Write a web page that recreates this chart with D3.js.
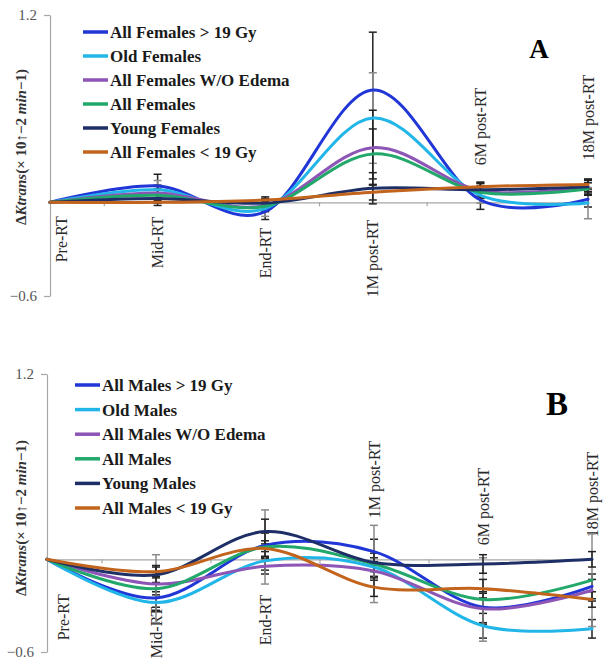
<!DOCTYPE html>
<html>
<head>
<meta charset="utf-8">
<script src="https://cdn.jsdelivr.net/npm/d3@7/dist/d3.min.js"></script>
<style>
  html, body { margin: 0; padding: 0; background: #fff; }
  svg { display: block; }
</style>
</head>
<body>
<svg id="chart" width="604" height="671"></svg>
<script>
// ---------------- DATA ----------------
const categories = ["Pre-RT", "Mid-RT", "End-RT", "1M post-RT", "6M post-RT", "18M post-RT"];
const yTickValues = [1.2, -0.6];

const femaleGroups = ["All Females > 19 Gy", "Old Females", "All Females W/O Edema", "All Females", "Young Females", "All Females < 19 Gy"];
const maleGroups = ["All Males > 19 Gy", "Old Males", "All Males W/O Edema", "All Males", "Young Males", "All Males < 19 Gy"];

// Panel A (females)
const femalesAbove19  = [0, 0.105, -0.06, 0.72, 0.015, 0.02];
const oldFemales      = [0, 0.08, -0.04, 0.54, 0.045, -0.005];
const femalesNoEdema  = [0, 0.06, -0.02, 0.35, 0.075, 0.10];
const allFemales      = [0, 0.045, -0.025, 0.31, 0.065, 0.085];
const youngFemales    = [0, 0.025, -0.005, 0.09, 0.08, 0.10];
const femalesBelow19  = [0, 0.0, 0.015, 0.065, 0.10, 0.115];

const errFemalesAbove19 = [0, 0.075, 0.05, 0.37, 0.06, 0.05];
const errOldFemales     = [0, 0.06, 0.05, 0.29, 0.05, 0.10];
const errFemalesNoEdema = [0, 0.05, 0.04, 0.24, 0.05, 0.05];
const errAllFemales     = [0, 0.04, 0.03, 0.16, 0.04, 0.04];
const errYoungFemales   = [0, 0.03, 0.03, 0.10, 0.04, 0.04];
const errFemalesBelow19 = [0, 0.02, 0.02, 0.05, 0.03, 0.03];

// Panel B (males)
const malesAbove19  = [0, -0.25, 0.09, 0.05, -0.31, -0.175];
const oldMales      = [0, -0.28, -0.01, -0.05, -0.43, -0.45];
const malesNoEdema  = [0, -0.16, -0.045, -0.075, -0.32, -0.20];
const allMales      = [0, -0.19, 0.08, -0.03, -0.26, -0.135];
const youngMales    = [0, -0.10, 0.18, -0.02, -0.03, 0.0];
const malesBelow19  = [0, -0.08, 0.07, -0.18, -0.19, -0.26];

const errMalesAbove19 = [0, 0.06, 0.08, 0.08, 0.10, 0.08];
const errOldMales     = [0, 0.05, 0.06, 0.06, 0.08, 0.06];
const errMalesNoEdema = [0, 0.05, 0.05, 0.06, 0.10, 0.07];
const errAllMales     = [0, 0.22, 0.24, 0.25, 0.27, 0.30];
const errYoungMales   = [0, 0.05, 0.08, 0.06, 0.06, 0.05];
const errMalesBelow19 = [0, 0.04, 0.05, 0.06, 0.06, 0.05];

// ---------------- STYLE / LAYOUT ----------------
const seriesColors = ["#2136d6", "#22b6e8", "#8c55b6", "#22a86a", "#1d2f66", "#c2641c"];
const errColorsA = ["#222", "#8a8a8a", "#222", "#222", "#222", "#222"];
const errColorsB = ["#222", "#222", "#222", "#8a8a8a", "#222", "#222"];

const panels = [
  {
    names: femaleGroups,
    series: [femalesAbove19, oldFemales, femalesNoEdema, allFemales, youngFemales, femalesBelow19],
    errors: [errFemalesAbove19, errOldFemales, errFemalesNoEdema, errAllFemales, errYoungFemales, errFemalesBelow19],
    errColors: errColorsA,
    xRange: [50, 588], yRange: [296, 15],
    legend: { lineX: 83, textX: 110, y: 32, step: 24 },
    letter: "A", letterX: 539, letterY: 58, letterSize: 27,
    yLabelCY: 147,
    labelOffsets: [60, 66, 76, 95, -37, -42],
    labelDx: [11, 0, 0, 0, 0, 0]
  },
  {
    names: maleGroups,
    series: [malesAbove19, oldMales, malesNoEdema, allMales, youngMales, malesBelow19],
    errors: [errMalesAbove19, errOldMales, errMalesNoEdema, errAllMales, errYoungMales, errMalesBelow19],
    errColors: errColorsB,
    xRange: [47, 592], yRange: [652, 374],
    legend: { lineX: 75, textX: 102, y: 385, step: 24.6 },
    letter: "B", letterX: 557, letterY: 415, letterSize: 33,
    yLabelCY: 518,
    labelOffsets: [81, 99, 86, -41, -14, -22],
    labelDx: [16, 0, 0, 0, 0, 0]
  }
];

// ---------------- DRAW ----------------
const svg = d3.select("#chart");
const serif = "'Liberation Serif', 'Times New Roman', serif";

panels.forEach(p => {
  const g = svg.append("g");
  const x = d3.scalePoint().domain(categories).range(p.xRange);
  const y = d3.scaleLinear().domain([-0.6, 1.2]).range(p.yRange);
  const y0 = y(0);

  // Y axis
  const yAxis = d3.axisLeft(y).tickValues(yTickValues).tickSize(6).tickSizeOuter(0).tickPadding(7)
    .tickFormat(d3.format(".1f"));
  const ya = g.append("g").attr("transform", `translate(${p.xRange[0]},0)`).call(yAxis);
  ya.select(".domain").attr("stroke", "#a6a6a6").attr("stroke-width", 1.2);
  ya.selectAll(".tick line").attr("stroke", "#a6a6a6").attr("stroke-width", 1.2);
  ya.selectAll(".tick text").attr("font-family", serif).attr("font-size", 15).attr("fill", "#555");

  // X axis along zero
  const xAxisScale = d3.scaleLinear().domain([0, categories.length - 1]).range(p.xRange);
  const midTicks = d3.range(categories.length - 1).map(i => i + 0.5);
  const xa = g.append("g").attr("transform", `translate(0,${y0})`)
    .call(d3.axisBottom(xAxisScale).tickValues(midTicks).tickSize(4).tickSizeOuter(0).tickFormat(""));
  xa.select(".domain").attr("stroke", "#a6a6a6").attr("stroke-width", 1.2);
  xa.selectAll(".tick line").attr("stroke", "#a6a6a6").attr("stroke-width", 1.2);

  // Category labels
  g.selectAll(".cat").data(categories).enter().append("text")
    .attr("transform", (d, i) => `translate(${x(d) + p.labelDx[i]},${y0 + p.labelOffsets[i]}) rotate(-90)`)
    .attr("dy", "0.35em")
    .attr("text-anchor", "start")
    .attr("font-family", serif).attr("font-size", 16).attr("fill", "#2a2a2a")
    .text(d => d);

  // Error bars
  p.series.forEach((s, si) => {
    const eg = g.append("g").attr("stroke", p.errColors[si]).attr("stroke-width", 1.5);
    s.forEach((v, i) => {
      const e = p.errors[si][i];
      if (!e) return;
      const cx = x(categories[i]);
      eg.append("line").attr("x1", cx).attr("x2", cx).attr("y1", y(v - e)).attr("y2", y(v + e));
      eg.append("line").attr("x1", cx - 4).attr("x2", cx + 4).attr("y1", y(v - e)).attr("y2", y(v - e));
      eg.append("line").attr("x1", cx - 4).attr("x2", cx + 4).attr("y1", y(v + e)).attr("y2", y(v + e));
    });
  });

  // Lines
  const line = d3.line()
    .x((d, i) => x(categories[i]))
    .y(d => y(d))
    .curve(d3.curveCardinal.tension(0));
  p.series.forEach((s, si) => {
    g.append("path").datum(s)
      .attr("d", line)
      .attr("fill", "none")
      .attr("stroke", seriesColors[si])
      .attr("stroke-width", 3)
      .attr("stroke-linejoin", "round")
      .attr("stroke-linecap", "round");
  });

  // Legend
  const lg = g.append("g");
  p.names.forEach((n, i) => {
    const ly = p.legend.y + i * p.legend.step;
    lg.append("line").attr("x1", p.legend.lineX).attr("x2", p.legend.textX - 2)
      .attr("y1", ly).attr("y2", ly)
      .attr("stroke", seriesColors[i]).attr("stroke-width", 3.5);
    lg.append("text").attr("x", p.legend.textX).attr("y", ly).attr("dy", "0.35em")
      .attr("font-family", serif).attr("font-weight", "bold").attr("font-size", 17).attr("fill", "#1a1a1a")
      .text(n);
  });

  // Panel letter
  g.append("text").attr("x", p.letterX).attr("y", p.letterY).attr("text-anchor", "middle")
    .attr("font-family", serif).attr("font-weight", "bold").attr("font-size", p.letterSize).attr("fill", "#000")
    .text(p.letter);

  // Y-axis title
  const t = g.append("text")
    .attr("transform", `translate(21,${p.yLabelCY}) rotate(-90)`)
    .attr("text-anchor", "middle").attr("dy", "0.35em")
    .attr("font-family", serif).attr("font-weight", "bold").attr("font-size", 15).attr("fill", "#333");
  t.append("tspan").text("Δ");
  t.append("tspan").attr("font-style", "italic").text("Ktrans");
  t.append("tspan").text("(× 10↑−2 ");
  t.append("tspan").attr("font-style", "italic").text("min");
  t.append("tspan").text("−1)");
});
</script>
</body>
</html>
